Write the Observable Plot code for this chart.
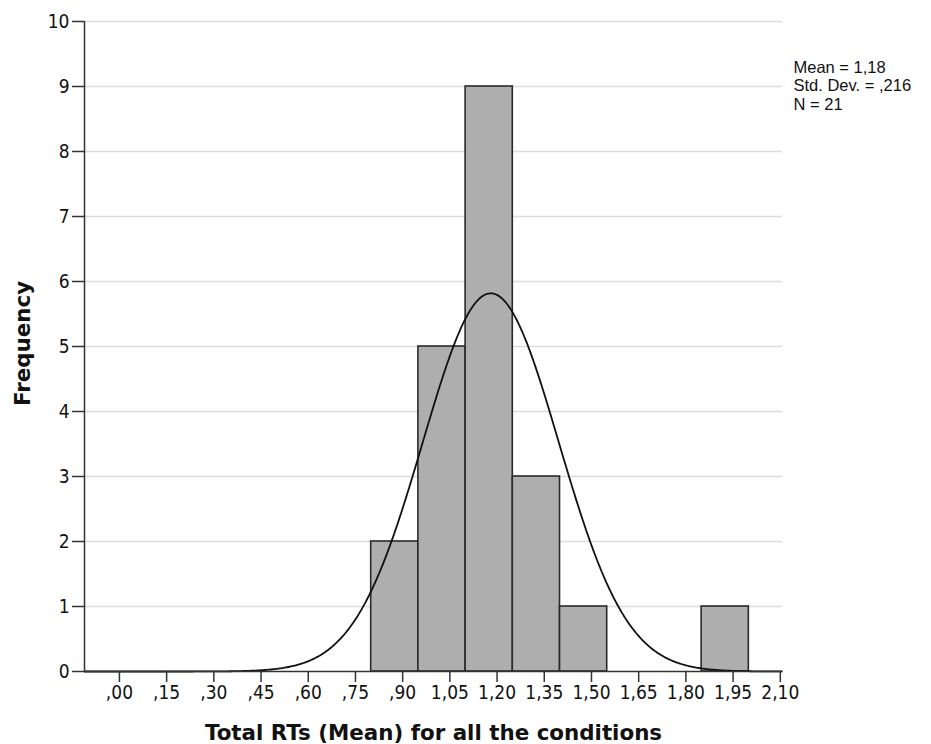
<!DOCTYPE html>
<html>
<head>
<meta charset="utf-8">
<script src="https://cdn.jsdelivr.net/npm/d3@7"></script>
<script src="https://cdn.jsdelivr.net/npm/@observablehq/plot@0.6"></script>
<style>
  html, body { margin: 0; padding: 0; background: #fff; }
</style>
</head>
<body>
<div id="chart"></div>
<script>
// Histogram bins (lower edge, upper edge) and frequencies
const binLow  = [0.80, 0.95, 1.10, 1.25, 1.40, 1.85];
const binHigh = [0.95, 1.10, 1.25, 1.40, 1.55, 2.00];
const counts  = [2, 5, 9, 3, 1, 1];

// Summary statistics shown in the chart
const statMean = 1.18;
const statSD = 0.216;
const statN = 21;
const binWidth = 0.15;

// Tick values
const xTicks = [0, 0.15, 0.30, 0.45, 0.60, 0.75, 0.90, 1.05, 1.20, 1.35, 1.50, 1.65, 1.80, 1.95, 2.10];
const yTicks = [0, 1, 2, 3, 4, 5, 6, 7, 8, 9, 10];

const xLabel = "Total RTs (Mean) for all the conditions";
const yLabel = "Frequency";
const statsText = "Mean = 1,18\nStd. Dev. = ,216\nN = 21";

const xDomain = [-0.111, 2.107];

const bins = binLow.map((lo, i) => ({lo, hi: binHigh[i], count: counts[i]}));

// Fitted normal curve defined by the displayed mean / SD / N
const curve = d3.range(xDomain[0], xDomain[1] + 1e-9, 0.004).map(x => ({
  x,
  y: statN * binWidth / (statSD * Math.sqrt(2 * Math.PI)) * Math.exp(-0.5 * ((x - statMean) / statSD) ** 2)
}));

const fmtX = d => {
  let s = d.toFixed(2);
  if (s.startsWith("0.")) s = s.slice(1);
  return s.replace(".", ",");
};

const tickFont = "'Liberation Sans Narrow', 'DejaVu Sans Condensed', 'Liberation Sans', sans-serif";

const chart = Plot.plot({
  width: 931,
  height: 744,
  marginLeft: 84,
  marginRight: 149,
  marginTop: 21,
  marginBottom: 73,
  style: {fontFamily: tickFont, fontSize: "19px", color: "#111", background: "#fff"},
  x: {domain: xDomain, ticks: xTicks, tickFormat: fmtX, tickSize: 11, tickPadding: 3, label: null},
  y: {domain: [0, 10], ticks: yTicks, tickFormat: d => String(d), tickSize: 12, tickPadding: 3, label: null},
  marks: [
    Plot.ruleY(yTicks.filter(d => d > 0), {stroke: "#dcdcdc", strokeWidth: 1.6}),
    Plot.rectY(bins, {x1: "lo", x2: "hi", y: "count", fill: "#aeaeae", stroke: "#2a2a2a", strokeWidth: 1.6, inset: 0}),
    Plot.line(curve, {x: "x", y: "y", stroke: "#111", strokeWidth: 1.8, curve: "linear"}),
    Plot.ruleX([xDomain[0]], {y1: 0, y2: 10, stroke: "#333", strokeWidth: 1.5}),
    Plot.ruleY([0], {stroke: "#333", strokeWidth: 1.5}),
    Plot.axisX({ticks: xTicks, tickFormat: fmtX, tickSize: 11, tickPadding: 3, label: null, stroke: "#333", strokeWidth: 1.5}),
    Plot.axisY({ticks: yTicks, tickFormat: d => String(d), tickSize: 12, tickPadding: 3, label: null, stroke: "#333", strokeWidth: 1.5}),
    Plot.text([statsText], {
      frameAnchor: "top-right", dx: 11, dy: 38, textAnchor: "start", lineAnchor: "top",
      fontFamily: "'Liberation Sans', Arial, sans-serif", fontSize: 16.5, lineHeight: 1.12, fill: "#111"
    }),
    Plot.text([xLabel], {
      frameAnchor: "bottom", dy: 62, textAnchor: "middle", lineAnchor: "middle",
      fontFamily: "'DejaVu Sans', sans-serif", fontWeight: "bold", fontSize: 21.4, fill: "#111"
    }),
    Plot.text([yLabel], {
      frameAnchor: "left", dx: -61, dy: -3, rotate: -90, textAnchor: "middle", lineAnchor: "middle",
      fontFamily: "'DejaVu Sans', sans-serif", fontWeight: "bold", fontSize: 21.4, fill: "#111"
    })
  ]
});

document.getElementById("chart").appendChild(chart);
</script>
</body>
</html>
